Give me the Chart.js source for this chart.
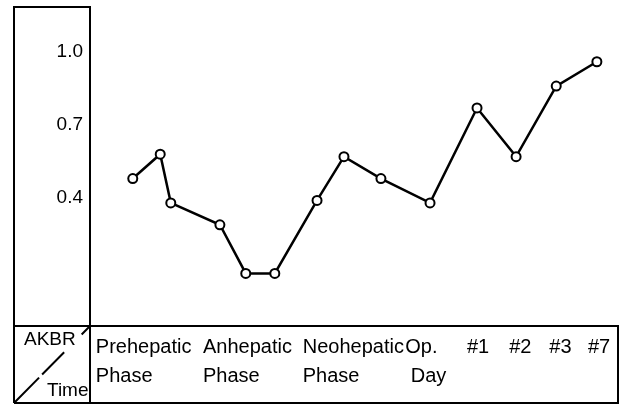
<!DOCTYPE html>
<html>
<head>
<meta charset="utf-8">
<script src="https://cdn.jsdelivr.net/npm/chart.js@4"></script>
<style>
  html, body { margin: 0; padding: 0; background: #fff; }
  canvas { display: block; }
</style>
</head>
<body>
<canvas id="myChart" width="625" height="406"></canvas>
<script>
// time position along the course (0..100 across the plot), AKBR value at each point
const timePos = [8.1, 13.3, 15.3, 24.6, 29.5, 35.0, 43.0, 48.1, 55.1, 64.4, 73.3, 80.7, 88.3, 96.0];
const akbr = [0.48, 0.58, 0.38, 0.29, 0.09, 0.09, 0.39, 0.57, 0.48, 0.38, 0.77, 0.57, 0.86, 0.96];

// phase labels, placed from where each one starts on the time axis
const tickPos = [1.1, 21.4, 40.3, 59.7, 71.4, 79.4, 87.0, 94.3];
const tickLabels = [
  ["Prehepatic", "Phase"],
  ["Anhepatic", "Phase"],
  ["Neohepatic", "Phase"],
  ["Op.", " Day"],
  "#1", "#2", "#3", "#7",
];
const yTicks = [0.4, 0.7, 1.0];

const FONT = "'Liberation Sans', Arial, sans-serif";

// box around the axis panel and the label table, with the AKBR / Time corner cell
const frame = {
  id: "frame",
  afterDraw(chart) {
    const c = chart.ctx;
    const a = chart.chartArea;
    const L = chart.scales.y.left;
    const B = chart.scales.x.bottom;
    c.save();
    c.strokeStyle = "#000";
    c.lineWidth = 2;
    c.beginPath();
    c.moveTo(L, B); c.lineTo(L, a.top); c.lineTo(a.left, a.top); c.lineTo(a.left, B);
    c.moveTo(L, a.bottom); c.lineTo(a.right, a.bottom); c.lineTo(a.right, B); c.lineTo(L, B);
    // broken diagonal
    [[0, 0.33], [0.37, 0.66], [0.89, 1]].forEach(([t0, t1]) => {
      c.moveTo(L + (a.left - L) * t0, B - (B - a.bottom) * t0);
      c.lineTo(L + (a.left - L) * t1, B - (B - a.bottom) * t1);
    });
    c.stroke();
    c.fillStyle = "#000";
    c.font = "19px " + FONT;
    c.textBaseline = "middle";
    c.textAlign = "left";
    c.fillText("AKBR", L + 10, a.bottom + 14);
    c.fillText("Time", L + 33, B - 12);
    c.restore();
  },
};

const ctx = document.getElementById("myChart");
const myChart = new Chart(ctx, {
  type: "line",
  data: {
    datasets: [
      {
        label: "AKBR",
        data: timePos.map((x, i) => ({ x: x, y: akbr[i] })),
        borderColor: "#000",
        borderWidth: 2.5,
        pointRadius: 4.5,
        pointBorderWidth: 2,
        pointBackgroundColor: "#fff",
        pointBorderColor: "#000",
        tension: 0,
      },
    ],
  },
  options: {
    responsive: false,
    animation: false,
    devicePixelRatio: 1,
    layout: { padding: { left: 14, top: 7, right: 7, bottom: 3 } },
    plugins: { legend: { display: false }, tooltip: { enabled: false } },
    scales: {
      x: {
        type: "linear",
        min: 0,
        max: 100,
        grid: { display: false, drawTicks: false, tickLength: 0 },
        border: { display: false },
        afterBuildTicks: (s) => { s.ticks = tickPos.map((v) => ({ value: v })); },
        afterFit: (s) => { s.height = 77; s.paddingLeft = 0; s.paddingRight = 0; },
        ticks: {
          autoSkip: false,
          maxRotation: 0,
          minRotation: 0,
          align: "start",
          padding: 7,
          color: "#000",
          font: { family: FONT, size: 20, lineHeight: 1.45 },
          callback: (v, i) => tickLabels[i],
        },
      },
      y: {
        min: -0.126,
        max: 1.185,
        grid: { display: false, drawTicks: false, tickLength: 0 },
        border: { display: false },
        afterBuildTicks: (s) => { s.ticks = yTicks.map((v) => ({ value: v })); },
        afterFit: (s) => { s.width = 76; s.paddingTop = 0; s.paddingBottom = 0; },
        ticks: {
          padding: 7,
          color: "#000",
          font: { family: FONT, size: 19 },
          callback: (v) => v.toFixed(1),
        },
      },
    },
  },
  plugins: [frame],
});
</script>
</body>
</html>
